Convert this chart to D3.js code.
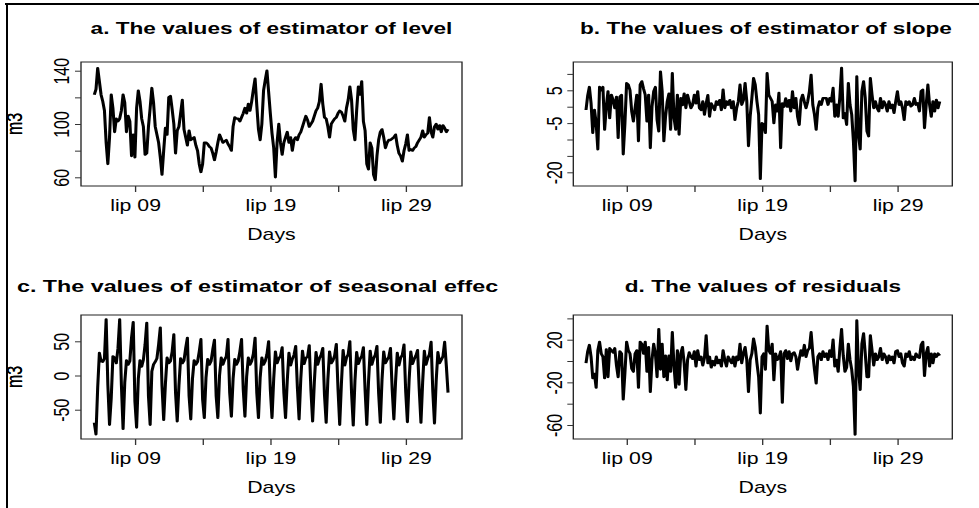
<!DOCTYPE html>
<html>
<head>
<meta charset="utf-8">
<script src="https://cdn.jsdelivr.net/npm/d3@7"></script>
<style>
body { margin: 0; background: #fff; }
svg text { font-family: "Liberation Sans", Arial, Helvetica, sans-serif; fill: #000; }
</style>
</head>
<body>
<script>
// series are read every 3 hours, starting 6 July 00:00
var startDate = new Date(2014, 6, 6, 0, 0);
var stepHours = 3;

// a. level (one row = one day)
var level = [
  122, 126, 142, 132, 122, 117, 110, 86,
  70, 90, 122, 112, 94, 104, 102, 104,
  110, 122, 116, 94, 106, 102, 76, 92,
  75, 112, 125, 117, 104, 98, 77, 78,
  98, 112, 127, 116, 98, 92, 86, 75,
  62, 80, 97, 92, 120, 121, 111, 100,
  78, 95, 98, 108, 118, 96, 90, 84,
  95, 88, 89, 90, 84, 80, 70, 64,
  70, 86, 86, 85, 83, 82, 78, 73,
  79, 86, 92, 89, 86, 87, 88, 85,
  83, 80, 98, 105, 104, 104, 102, 105,
  108, 112, 108, 115, 110, 117, 126, 134,
  114, 96, 88, 100, 125, 133, 140, 124,
  108, 93, 82, 60, 86, 100, 86, 77,
  86, 90, 94, 86, 90, 80, 88, 90,
  88, 92, 94, 98, 102, 106, 103, 98,
  100, 102, 106, 110, 112, 117, 130, 115,
  105, 104, 98, 90, 100, 102, 104, 105,
  108, 110, 109, 106, 102, 112, 118, 128,
  118, 96, 88, 110, 128, 122, 132, 102,
  95, 70, 66, 86, 82, 62, 58, 76,
  88, 94, 96, 90, 82, 86, 88, 88,
  89, 90, 92, 84, 78, 76, 72, 80,
  85, 92, 80, 81, 80, 82, 83, 86,
  88, 90, 95, 90, 92, 93, 105, 94,
  90, 98, 100, 96, 99, 94, 99, 97,
  94, 96
];

// b. slope
var slope = [
  -1, 3.4, 6, 1, -8, -1, -5, -13,
  6, 5, 6, -7, 0, 4.7, -3.5, 3.6,
  2, -0.4, 3, -9.5, 3, 3.6, -14.5, -5,
  7.2, 6.7, 5, -1.4, -4.5, -0.4, 3.6, -10.5,
  6.7, 7.7, 5.5, 3.6, -4.5, 3.6, -12.6, 0,
  4.7, 6, -4, -7.5, 10.7, 4.7, -10.5, -3,
  1.6, 4, -7, 10.2, -3.4, -7, 3.6, -8.5,
  2.6, 0.5, 4, -0.4, 3.6, 1.5, -0.4, 0.6,
  3.6, 1, 4.7, -0.4, -1, 1.6, -2.4, 1,
  3.5, -3, 1, 0, -1, 1.6, 0.6, 2,
  -1, 5.2, -0.4, 1.6, 0.6, 2, -0.4, 1.6,
  -4, -0.4, 1.6, 6.7, 0.6, 2, 7.2, 1.6,
  -12, -3, 2.6, 8.7, 6.7, 1.6, -2.4, -22,
  -5, -5.5, -8, 10.2, 3.6, 2.6, 1.6, -5,
  0.6, -1.4, 4.2, -12.6, 1, 0, 2.5, 0,
  2, -1.4, 4.7, -0.4, 2.6, -3, -5.5, 2,
  3.6, 1.5, -0.4, 1.6, 4.7, 9.7, 0.6, -2.4,
  -7, -0.4, 1.6, 0.6, 2.6, 2.6, 2.6, 0.6,
  2.6, 1.6, 5.7, -3, 0.6, -3, 3, 11.8,
  -3.5, -2, -5.5, 7.2, 0.6, -2.4, -10.5, -22.7,
  9.2, -8.5, -13, 4.7, 7.7, 2.6, -7.5, -9,
  8.7, 3.6, -0.4, 1.6, -0.4, -1.4, 2.6, -0.4,
  1.6, 0.6, -1.4, 1.6, -0.4, 0.6, -1.9, 1.6,
  4.7, 0.6, 1.6, -0.4, -4, 1.6, 0.6, 1.6,
  0.1, 0.6, 2.6, 0.6, 1.1, -1.4, 4.7, 5.2,
  -6.5, 0.6, 6.7, 0.6, -3, 1.6, -1.4, 2.1,
  -0.4, 1.6
];

// c. seasonal effect
var seasonal = [
  -69, -86, -18, 33, 21, 20, 25, 82,
  -13, -72, -33, 28, 26, 18, 40, 82,
  -13, -78, -10, 22, 16, 21, 55, 78,
  -38, -76, -5, 22, 13, 23, 45, 77,
  -30, -72, 6, 16, 20, 25, 45, 70,
  -15, -65, -13, 26, 18, 21, 35, 60,
  -25, -67, -15, 25, 18, 22, 40, 55,
  -30, -64, -5, 22, 16, 20, 35, 53,
  -35, -62, -3, 24, 16, 21, 38, 52,
  -30, -62, 0, 26, 16, 23, 28, 53,
  -25, -60, -5, 24, 16, 21, 35, 53,
  -20, -60, -2, 26, 16, 21, 32, 55,
  -25, -62, -3, 26, 16, 21, 31, 50,
  -20, -62, -5, 35, 18, 25, 28, 41,
  -25, -62, -8, 33, 15, 24, 30, 43,
  -18, -64, -5, 36, 17, 26, 27, 44,
  -22, -67, -10, 34, 16, 25, 30, 40,
  -28, -69, -6, 35, 18, 22, 29, 46,
  -20, -72, -12, 37, 15, 26, 31, 50,
  -25, -73, -8, 34, 17, 24, 28, 41,
  -22, -72, -10, 36, 16, 25, 30, 43,
  -26, -69, -6, 35, 18, 23, 27, 40,
  -20, -64, -9, 33, 15, 26, 30, 45,
  -24, -68, -7, 35, 17, 24, 29, 37,
  -21, -69, -10, 36, 16, 25, 31, 49,
  -23, -70, -8, 34, 18, 23, 28, 49,
  14, -25
];

// d. residuals
var residuals = [
  -2, 9, 15, 4, -16, -12, -25, 10,
  18, 7, 4, -16, 11, -15, 12, 10,
  8, 12, -4, -15, 9, 7, -36, -11,
  18, 10, 7, -7, -10, 7, 10, -25,
  18, 16, 7, 18, -10, 13, -29, 1,
  16, 7, -15, 30, -8, 16, -15, 5,
  -18, 5, -10, 27, -5, -25, 10, -22,
  7, 13, -2, -27, 1, 8, 4, 2,
  9, -5, 10, 1, 4, -4, 3, 24,
  -2, 4, -6, 0, -4, 4, -2, 1,
  -5, 10, 1, -5, 4, 1, -2, 4,
  -5, 4, 1, 16, -2, 7, 13, 1,
  -29, 1, 7, 21, 13, -2, -15, -49,
  4, 7, -8, 33, 10, 7, 16, -18,
  7, 1, 3, 9, -39, 7, 10, 2,
  9, 0, 7, 8, 4, -8, 2, 10,
  5, 15, 4, 10, 12, 27, 7, -8,
  -21, 4, 7, 1, 9, 4, 7, 1,
  10, 4, 20, -5, 1, -10, 12, 30,
  5, -10, -6, 16, 1, -8, -24, -69,
  38, -8, -27, 16, 26, 7, -15, -15,
  24, 10, -4, 7, 1, 4, 12, 1,
  7, 4, -2, 5, 1, 4, -2, 9,
  10, 4, 7, -2, -5, 7, 4, 9,
  1, 4, 1, 7, 4, 3, 15, 18,
  -14, 7, 13, -5, 7, -2, 7, 4,
  7, 5
];

// axis ticks
var tickDays = [9, 14, 19, 24, 29];
var labelDays = [9, 19, 29];
var levelTicks = [60, 80, 100, 120, 140], levelLabels = [60, 100, 140];
var slopeTicks = [-20, -15, -10, -5, 0, 5, 10], slopeLabels = [-20, -5, 5];
var seasonalTicks = [-50, 0, 50], seasonalLabels = [-50, 0, 50];
var residTicks = [-60, -40, -20, 0, 20, 40], residLabels = [-60, -20, 20];

var titles = [
  "a. The values of estimator of level",
  "b. The values of estimator of slope",
  "c. The values of estimator of seasonal effect",
  "d. The values of residuals"
];

// the picture is stretched sideways, so everything is drawn narrow and scaled
var S = 1.33;
var w = 979, h = 508;
var dayPx = 13.54;
var axisFont = 16;

var svg = d3.select("body").append("svg")
  .attr("width", w)
  .attr("height", h);

// frame of the screenshot (top and left only)
svg.append("line").attr("x1", 5).attr("x2", w).attr("y1", 4).attr("y2", 4)
  .attr("stroke", "#000").attr("stroke-width", 2);
svg.append("line").attr("x1", 7).attr("x2", 7).attr("y1", 3).attr("y2", h)
  .attr("stroke", "#000").attr("stroke-width", 2);

var root = svg.append("g").attr("transform", "scale(" + S + ",1)");

root.append("clipPath").attr("id", "clipC")
  .append("rect").attr("x", 0).attr("y", 0).attr("width", 498 / S).attr("height", h);

var tickDates = tickDays.map(function(d) { return new Date(2014, 6, d); });

function drawPanel(p) {
  var g = root.append("g");
  var left = p.box[0] / S, top = p.box[1], right = p.box[2] / S, bottom = p.box[3];

  var x = d3.scaleTime()
    .domain([startDate, d3.timeDay.offset(startDate, 23)])
    .range([p.x0 / S, (p.x0 + 23 * dayPx) / S]);
  var y = d3.scaleLinear().domain(p.yDom).range(p.yRange);

  var line = d3.line()
    .x(function(d, i) { return x(d3.timeHour.offset(startDate, i * stepHours)); })
    .y(function(d) { return y(d); });

  g.append("path")
    .datum(p.data)
    .attr("d", line)
    .attr("fill", "none")
    .attr("stroke", "#000")
    .attr("stroke-width", 2.3)
    .attr("stroke-linejoin", "round");

  // box
  g.append("rect")
    .attr("x", left).attr("y", top)
    .attr("width", right - left).attr("height", bottom - top)
    .attr("fill", "none").attr("stroke", "#222").attr("stroke-width", 1);

  // x axis
  var xAxis = d3.axisBottom(x)
    .tickValues(tickDates)
    .tickSize(6)
    .tickPadding(8)
    .tickFormat(function(d) {
      return labelDays.indexOf(d.getDate()) >= 0 ? "lip " + d3.timeFormat("%d")(d) : "";
    });
  var gx = g.append("g").attr("transform", "translate(0," + bottom + ")").call(xAxis);
  gx.select(".domain").remove();
  gx.selectAll("line").attr("stroke", "#333");
  gx.selectAll("text").attr("font-size", axisFont).attr("font-family", null);

  // y axis, labels turned along the axis
  var yAxis = d3.axisLeft(y)
    .tickValues(p.yTicks)
    .tickSize(6 / S)
    .tickFormat(function(d) { return p.yLabels.indexOf(d) >= 0 ? d : ""; });
  var gy = g.append("g").attr("transform", "translate(" + left + ",0)").call(yAxis);
  gy.select(".domain").remove();
  gy.selectAll("line").attr("stroke", "#333");
  gy.selectAll("text")
    .attr("font-size", axisFont).attr("font-family", null)
    .attr("x", 0).attr("dy", "0.35em")
    .attr("text-anchor", "middle")
    .attr("transform", "translate(" + (-19 / S) + ",0) rotate(-90)");

  // axis titles
  g.append("text")
    .attr("x", (left + right) / 2).attr("y", bottom + 48).attr("dy", "0.35em")
    .attr("text-anchor", "middle").attr("font-size", axisFont)
    .text("Days");
  g.append("text")
    .attr("transform", "translate(" + (15 / S) + "," + ((top + bottom) / 2) + ") rotate(-90)")
    .attr("dy", "0.35em")
    .attr("text-anchor", "middle").attr("font-size", axisFont)
    .text("m3");

  // main title
  var t = g.append("text")
    .attr("x", p.titleX / S).attr("y", p.titleY)
    .attr("text-anchor", p.titleAnchor)
    .attr("font-size", 17).attr("font-weight", "bold")
    .text(p.title);
  if (p.titleLen) t.attr("textLength", p.titleLen / S).attr("lengthAdjust", "spacingAndGlyphs");
  if (p.clip) t.attr("clip-path", "url(#" + p.clip + ")");
}

drawPanel({ data: level, x0: 94.3, box: [81, 62, 462, 186],
  yDom: [60, 140], yRange: [177.3, 70.7], yTicks: levelTicks, yLabels: levelLabels,
  title: titles[0], titleX: 271.5, titleY: 34, titleAnchor: "middle" });

drawPanel({ data: slope, x0: 586, box: [573.3, 62, 952.3, 186],
  yDom: [-20, 5], yRange: [172.3, 90.3], yTicks: slopeTicks, yLabels: slopeLabels,
  title: titles[1], titleX: 766, titleY: 34, titleAnchor: "middle" });

drawPanel({ data: seasonal, x0: 94.3, box: [81, 315, 462, 439],
  yDom: [-50, 50], yRange: [409.7, 341.3], yTicks: seasonalTicks, yLabels: seasonalLabels,
  title: titles[2], titleX: 17, titleY: 292, titleAnchor: "start", titleLen: 489, clip: "clipC" });

drawPanel({ data: residuals, x0: 586, box: [573.3, 315, 952.3, 439],
  yDom: [-60, 20], yRange: [425, 339.7], yTicks: residTicks, yLabels: residLabels,
  title: titles[3], titleX: 763, titleY: 292, titleAnchor: "middle" });
</script>
</body>
</html>
